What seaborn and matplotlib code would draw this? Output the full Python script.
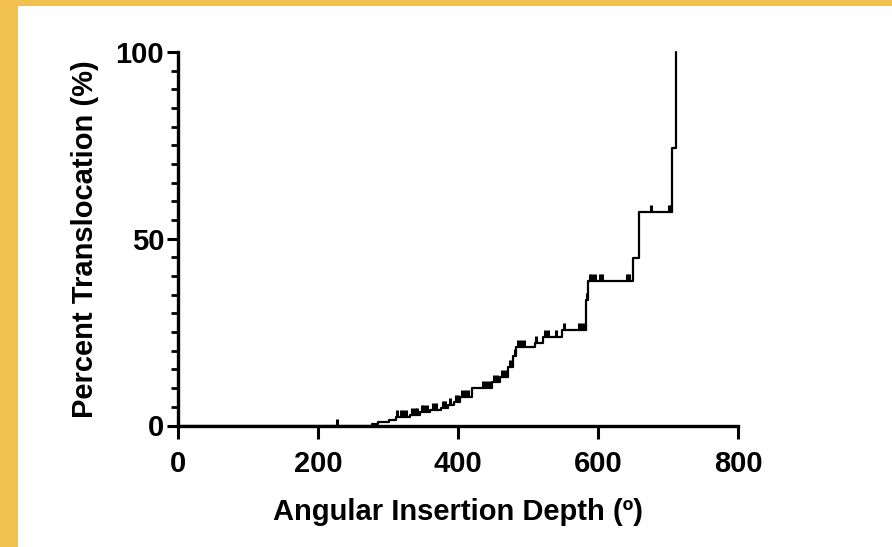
import numpy as np
import pandas as pd
import matplotlib
matplotlib.use("Agg")
import matplotlib.pyplot as plt
from matplotlib.path import Path
from matplotlib.patches import Rectangle
import seaborn as sns

# ---- data ----
step_depth = [0, 277, 286, 302, 312, 331, 345, 360, 376, 386, 394, 403, 420, 449,
              460, 471, 479, 483, 510, 521, 549, 583, 586, 650, 659, 706, 711]
step_percent = [0, 0.5, 1.0, 1.6, 2.3, 2.9, 3.6, 4.2, 4.8, 5.6, 6.4, 7.6, 10.0, 11.6,
                13.0, 15.6, 18.5, 21.0, 22.1, 23.7, 25.6, 33.5, 38.8, 44.8, 57.1, 74.3, 100.0]

censor_depth = [227, 313, 318, 322, 326, 334, 338, 342, 348, 352, 356, 364, 368,
                378, 382, 389, 397, 400, 405, 410, 414, 436, 440, 444, 452, 456,
                463, 467, 474, 481, 486, 490, 494, 512, 524, 528, 540, 552, 573,
                577, 581, 584, 588, 591, 595, 603, 606, 641, 644, 675, 701, 704]
censor_percent = [0, 2.3, 2.3, 2.3, 2.3, 2.9, 2.9, 2.9, 3.6, 3.6, 3.6, 4.2, 4.2,
                  4.8, 4.8, 5.6, 6.4, 6.4, 7.6, 7.6, 7.6, 10.0, 10.0, 10.0, 11.6, 11.6,
                  13.0, 13.0, 15.6, 18.5, 21.0, 21.0, 21.0, 22.1, 23.7, 23.7, 23.7, 25.6, 25.6,
                  25.6, 25.6, 33.5, 38.8, 38.8, 38.8, 38.8, 38.8, 38.8, 38.8, 57.1, 57.1, 57.1]

x_ticks = [0, 200, 400, 600, 800]
y_ticks = [0, 50, 100]
x_label = "Angular Insertion Depth (º)"
y_label = "Percent Translocation (%)"

steps = pd.DataFrame({"depth": step_depth, "percent": step_percent})
cens = pd.DataFrame({"depth": censor_depth, "percent": censor_percent})

sns.set_style("ticks")
plt.rcParams["font.family"] = ["Liberation Sans", "DejaVu Sans"]
plt.rcParams["font.weight"] = "bold"
for key in ["text.color", "axes.labelcolor", "xtick.color", "ytick.color",
            "xtick.labelcolor", "ytick.labelcolor"]:
    plt.rcParams[key] = "black"

W, H = 892, 547
fig = plt.figure(figsize=(W / 100, H / 100), dpi=100)
fig.patch.set_facecolor("white")
yellow = "#F2C04E"
fig.patches.append(Rectangle((0, 0), 18 / W, 1, transform=fig.transFigure,
                             facecolor=yellow, edgecolor="none", zorder=0))
fig.patches.append(Rectangle((0, 1 - 6 / H), 1, 6 / H, transform=fig.transFigure,
                             facecolor=yellow, edgecolor="none", zorder=0))

ax = fig.add_axes([178 / W, 1 - 425.5 / H, (738 - 178) / W, (425.5 - 52) / H])
ax.set_facecolor("none")

sns.lineplot(data=steps, x="depth", y="percent", ax=ax, drawstyle="steps-post",
             estimator=None, sort=False, color="black", linewidth=1.6, clip_on=False)

tick_marker = Path([[0, 0], [0, 1]])
sns.scatterplot(data=cens, x="depth", y="percent", ax=ax, marker=tick_marker,
                s=100, color="black", edgecolor="black", linewidth=2.2,
                zorder=5, clip_on=False)

ax.set_xlim(0, 800)
ax.set_ylim(0, 100)
ax.set_xticks(x_ticks)
ax.set_yticks(y_ticks)
ax.set_yticks(np.arange(0, 101, 5), minor=True)
ax.set_xticklabels([str(t) for t in x_ticks], fontsize=21, fontweight="bold", color="black")
ax.set_yticklabels([str(t) for t in y_ticks], fontsize=21, fontweight="bold", color="black")
ax.tick_params(axis="x", which="major", length=9, width=2.2, color="black", pad=9)
ax.tick_params(axis="y", which="major", length=8, width=2.2, color="black", pad=2)
ax.tick_params(axis="y", which="minor", length=5, width=2, color="black")
for side in ["top", "right"]:
    ax.spines[side].set_visible(False)
for side in ["left", "bottom"]:
    ax.spines[side].set_linewidth(2.4)
    ax.spines[side].set_color("black")

ax.set_xlabel(x_label, fontsize=21, fontweight="bold", labelpad=14, color="black")
ax.set_ylabel(y_label, fontsize=21, fontweight="bold", labelpad=12, color="black")

fig.savefig("out.png", dpi=100)
